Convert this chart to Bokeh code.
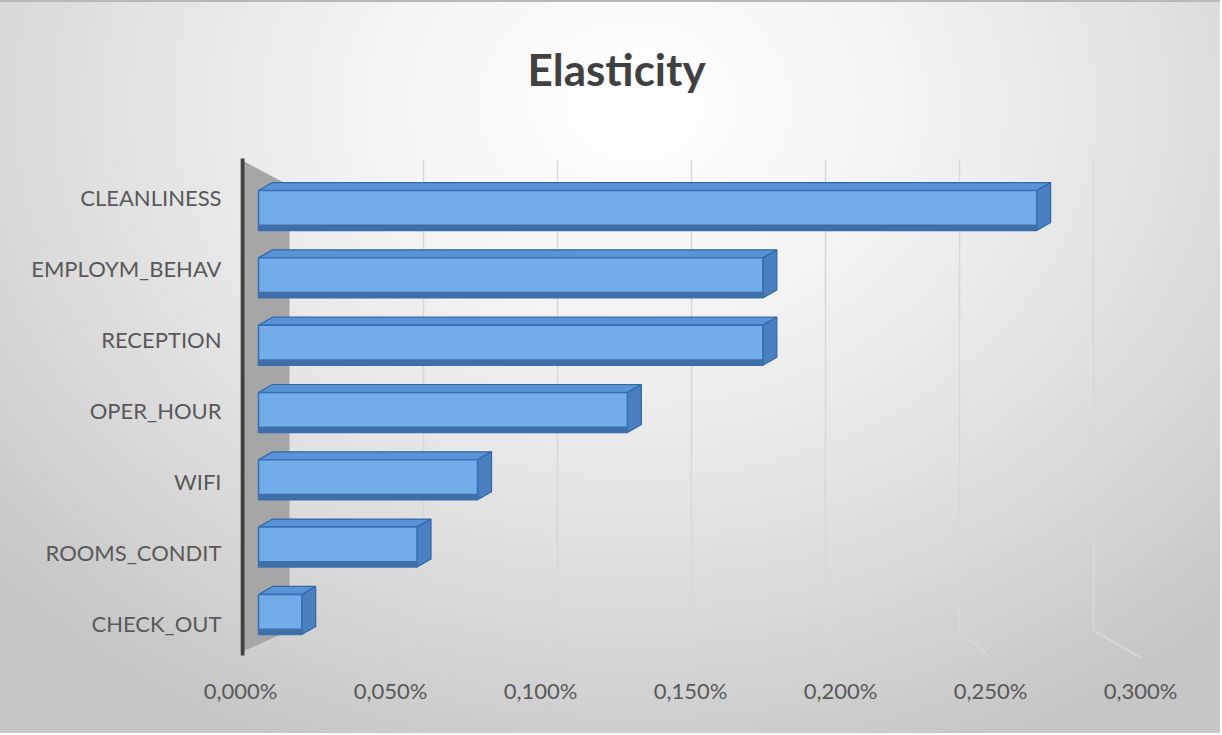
from bokeh.plotting import figure
from bokeh.models import Range1d, FixedTicker, CustomJSTickFormatter, Label
from bokeh.embed import file_html
from bokeh.resources import INLINE

# ---------------- data ----------------
categories = ["CHECK_OUT", "ROOMS_CONDIT", "WIFI", "OPER_HOUR",
              "RECEPTION", "EMPLOYM_BEHAV", "CLEANLINESS"]          # bottom -> top
elasticity = [0.015, 0.055, 0.076, 0.128, 0.175, 0.175, 0.270]        # in %
tick_values = [0.00, 0.05, 0.10, 0.15, 0.20, 0.25, 0.30]
tick_labels = ["0,000%", "0,050%", "0,100%", "0,150%", "0,200%", "0,250%", "0,300%"]
title_text = "Elasticity"

# ---------------- layout / style constants ----------------
W, H = 1220, 733
ML, MR, MT = 240, 6, 2
FRAME_BOTTOM = 657                        # page y of the frame bottom
MB = H - FRAME_BOTTOM
FRAME_W = W - ML - MR
PX_PER_UNIT = 3000.0                      # pixels per 1 % on the front plane
X_MAX = FRAME_W / PX_PER_UNIT
ROW_PX = 71.0

FONT = "Lato"

# pseudo 3-D geometry (in data units)
WALL_W = 49 / PX_PER_UNIT                 # depth of the left wall
BACK_SCALE = 2680 / PX_PER_UNIT           # back-wall scale relative to front
BAR_X0 = 18 / PX_PER_UNIT
BAR_SCALE = 2882 / PX_PER_UNIT
BAR_MID = 2.972
BAR_STEP = 0.948
BAR_HALF = 20 / ROW_PX
DX = 14 / PX_PER_UNIT
DY = 8 / ROW_PX


def ydat(py):
    return 6 - (py - 195) / ROW_PX


def xdat(px):
    return (px - ML) / PX_PER_UNIT


p = figure(width=W, height=H, output_backend="svg", toolbar_location=None,
           x_range=Range1d(0, X_MAX), y_range=Range1d(ydat(FRAME_BOTTOM), ydat(MT)),
           min_border_left=ML, min_border_right=MR,
           min_border_top=MT, min_border_bottom=MB)

p.border_fill_color = None
p.background_fill_color = None
p.outline_line_color = None
p.styles = {
    "background": "radial-gradient(ellipse 70% 95% at 52% 14%, #ffffff 0%, #f4f4f4 30%, "
                  "#e4e4e4 58%, #d4d4d4 82%, #c6c6c6 100%)",
    "border-top": "2px solid #b8b8b8",
}
p.grid.visible = False

# title (as a label inside the tall frame)
p.add_layout(Label(x=xdat(527), y=ydat(66), text=title_text,
                   text_font=FONT, text_font_size="44px", text_font_style="bold",
                   text_color="#404040", text_align="left",
                   text_baseline="alphabetic"))

# x axis
p.xaxis.ticker = FixedTicker(ticks=tick_values)
p.xaxis.formatter = CustomJSTickFormatter(args=dict(labels=tick_labels),
                                          code="return labels[index];")
p.xaxis.axis_line_color = None
p.xaxis.major_tick_line_color = None
p.xaxis.minor_tick_line_color = None
p.xaxis.major_tick_out = 0
p.xaxis.major_label_standoff = 17
p.xaxis.major_label_text_font = FONT
p.xaxis.major_label_text_font_size = "22px"
p.xaxis.major_label_text_color = "#595959"

# y axis
p.yaxis.ticker = FixedTicker(ticks=list(range(len(categories))))
p.yaxis.formatter = CustomJSTickFormatter(args=dict(labels=categories),
                                          code="return labels[index];")
p.yaxis.axis_line_color = None
p.yaxis.major_tick_line_color = None
p.yaxis.minor_tick_line_color = None
p.yaxis.major_tick_out = 0
p.yaxis.major_label_standoff = 19
p.yaxis.major_label_text_font = FONT
p.yaxis.major_label_text_font_size = "22px"
p.yaxis.major_label_text_color = "#595959"

# back-wall / floor grid lines
gx, gy = [], []
for t in tick_values[1:]:
    bx = WALL_W + BACK_SCALE * t
    gx.append([bx, bx, t])
    gy.append([ydat(158), ydat(628), ydat(655)])
p.multi_line(gx, gy, line_color="#d8d8d8", line_width=1.5)

# left wall
p.patch([0, WALL_W, WALL_W, 0],
        [ydat(157), ydat(183), ydat(628), ydat(650)],
        fill_color="#a6a6a6", line_color=None)

# vertical axis line (dark edge of the wall)
p.segment(x0=[xdat(242)], y0=[ydat(156)], x1=[xdat(242)], y1=[ydat(653)],
          line_color="#404040", line_width=4)

# bars (pseudo 3-D)
lefts, rights, tops, bottoms = [], [], [], []
top_xs, top_ys, side_xs, side_ys = [], [], [], []
for i, v in enumerate(elasticity):
    yc = BAR_MID + (i - 3) * BAR_STEP
    l = BAR_X0
    r = BAR_X0 + BAR_SCALE * v
    t = yc + BAR_HALF
    b = yc - BAR_HALF
    lefts.append(l); rights.append(r); tops.append(t); bottoms.append(b)
    top_xs.append([l, r, r + DX, l + DX])
    top_ys.append([t, t, t + DY, t + DY])
    side_xs.append([r, r, r + DX, r + DX])
    side_ys.append([b, t, t + DY, b + DY])

p.patches(top_xs, top_ys, fill_color="#5a93d6", line_color="#2f68a8", line_width=1.2)
p.patches(side_xs, side_ys, fill_color="#4a80c0", line_color="#2f68a8", line_width=1.2)
p.quad(left=lefts, right=rights, top=tops, bottom=bottoms,
       fill_color="#72ace9", line_color="#3670b2", line_width=1.5)
p.quad(left=lefts, right=rights, top=[b + 6 / ROW_PX for b in bottoms], bottom=bottoms,
       fill_color="#3e6fa8", line_color=None)

open("out.html", "w").write(file_html(p, INLINE))
